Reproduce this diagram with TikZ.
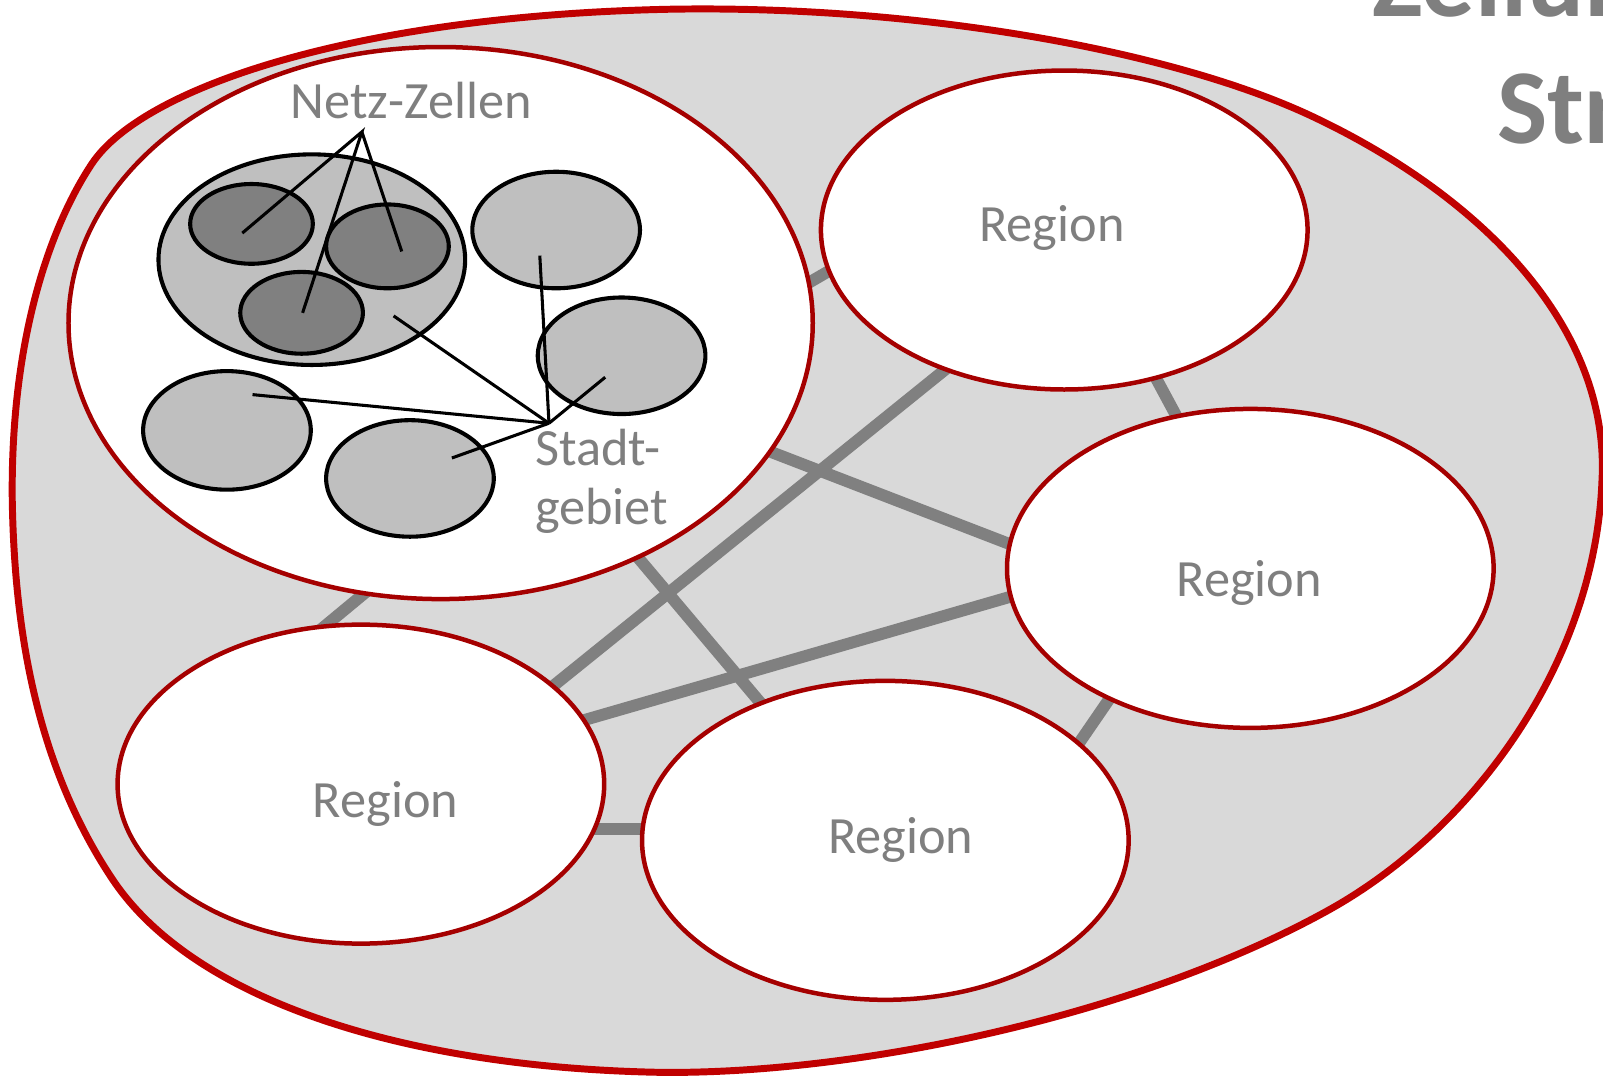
\documentclass[tikz,border=0pt]{standalone}
\usepackage{fontspec}
\setmainfont{Carlito}
\usetikzlibrary{shapes.geometric}
\definecolor{outerred}{HTML}{C00000}
\definecolor{ringred}{HTML}{A50000}
\definecolor{bggray}{HTML}{D9D9D9}
\definecolor{cellgray}{HTML}{BFBFBF}
\definecolor{darkcell}{HTML}{808080}
\definecolor{txtgray}{HTML}{7F7F7F}
\definecolor{linkgray}{HTML}{808080}
\pgfdeclarelayer{blob}
\pgfdeclarelayer{links}
\pgfsetlayers{blob,links,main}
\begin{document}
\begin{tikzpicture}[x=0.5pt,y=-0.5pt,
 regionst/.style={ellipse, draw=ringred, line width=2.2pt, fill=white, inner sep=0pt, minimum width=238pt, minimum height=156pt},
 cellst/.style={ellipse, draw=black, line width=2pt, fill=cellgray, inner sep=0pt, minimum width=82pt, minimum height=57pt},
 darkst/.style={ellipse, draw=black, line width=2pt, fill=darkcell, inner sep=0pt, minimum width=60pt, minimum height=40pt},
 linkline/.style={draw=linkgray, line width=5.8pt},
 pointer/.style={draw=black, line width=1.5pt},
 lbl/.style={text=txtgray, font=\fontsize{25.6}{30}\selectfont, inner sep=0pt},
 titletext/.style={text=txtgray, font=\bfseries\fontsize{52}{62}\selectfont, inner sep=0pt}]
\useasboundingbox (0,0) rectangle (1568,1053);
\clip (0,0) rectangle (1568,1053);

% outer area
\begin{pgfonlayer}{blob}
\draw[fill=bggray, draw=outerred, line width=3.4pt, line join=round]
  (12,490) .. controls (10,330) and (50,220) .. (90,160)
  .. controls (140,85) and (350,15) .. (657,9)
  .. controls (900,5) and (1150,50) .. (1286,115)
  .. controls (1450,193) and (1575,320) .. (1567,470)
  .. controls (1560,650) and (1440,812) .. (1300,890)
  .. controls (1120,990) and (850,1050) .. (650,1049)
  .. controls (400,1045) and (190,980) .. (110,860)
  .. controls (30,740) and (14,600) .. (12,490) -- cycle;
\end{pgfonlayer}

% regions
\node[regionst, minimum width=364pt, minimum height=270pt] (city) at (431,316) {};
\node[regionst] (r1) at (1041,225) {};
\node[regionst] (r2) at (1223,556) {};
\node[regionst] (r3) at (353,767) {};
\node[regionst] (r4) at (866,822) {};

% link end points
\coordinate (a1) at (1120,350); \coordinate (a2) at (1162,428);
\coordinate (b1) at (775,286);  \coordinate (b2) at (835,251);
\coordinate (c1) at (945,345);  \coordinate (c2) at (525,684);
\coordinate (d1) at (728,432);  \coordinate (d2) at (1013,542);
\coordinate (e1) at (606,524);  \coordinate (e2) at (762,709);
\coordinate (f1) at (1015,576); \coordinate (f2) at (545,712);
\coordinate (g1) at (375,565);  \coordinate (g2) at (305,623);
\coordinate (h1) at (570,811);  \coordinate (h2) at (645,811);
\coordinate (i1) at (1100,662); \coordinate (i2) at (1043,745);

\begin{pgfonlayer}{links}
\draw[linkline] (a1) -- (a2);
\draw[linkline] (b1) -- (b2);
\draw[linkline] (c1) -- (c2);
\draw[linkline] (d1) -- (d2);
\draw[linkline] (e1) -- (e2);
\draw[linkline] (f1) -- (f2);
\draw[linkline] (g1) -- (g2);
\draw[linkline] (h1) -- (h2);
\draw[linkline] (i1) -- (i2);
\end{pgfonlayer}

% cells
\node[cellst, minimum width=150pt, minimum height=103pt] (grp) at (305,254) {};
\node[darkst, minimum height=39pt] (dc1) at (246,219) {};
\node[darkst, minimum height=41pt] (dc2) at (379,241) {};
\node[darkst] (dc3) at (295,306) {};
\node[cellst] (ca) at (544,225) {};
\node[cellst] (cb) at (608,348) {};
\node[cellst, minimum height=58pt] (cc) at (222,421) {};
\node[cellst] (cd) at (401,468) {};

% pointers
\coordinate (nz) at (354,129);
\coordinate (st) at (537,414);
\coordinate (p1) at (237,228);
\coordinate (p2) at (296,306);
\coordinate (p3) at (393,246);
\coordinate (q1) at (385,309);
\coordinate (q2) at (528,250);
\coordinate (q3) at (592,369);
\coordinate (q4) at (247,386);
\coordinate (q5) at (442,448);
\draw[pointer] (p1) -- (nz) -- (p2);
\draw[pointer] (nz) -- (p3);
\draw[pointer] (q1) -- (st);
\draw[pointer] (q2) -- (st);
\draw[pointer] (q3) -- (st);
\draw[pointer] (q4) -- (st);
\draw[pointer] (q5) -- (st);

% labels
\node[lbl, anchor=base] (t1) at (1029,236) {Region};
\node[lbl, anchor=base] (t2) at (1222,583) {Region};
\node[lbl, anchor=base] (t3) at (377,800) {Region};
\node[lbl, anchor=base] (t4) at (881,835) {Region};
\node[lbl, anchor=base west] (tnz) at (284,116) {Netz-Zellen};
\node[lbl, anchor=base west] (ts1) at (523,455) {Stadt-};
\node[lbl, anchor=base west] (ts2) at (523,513) {gebiet};

% title (cut off by the picture edge, as in the original)
\node[titletext, anchor=base west] (tt1) at (1342,16) {Zellulare};
\node[titletext, anchor=base west] (tt2) at (1464,140) {Struktur};
\end{tikzpicture}
\end{document}
